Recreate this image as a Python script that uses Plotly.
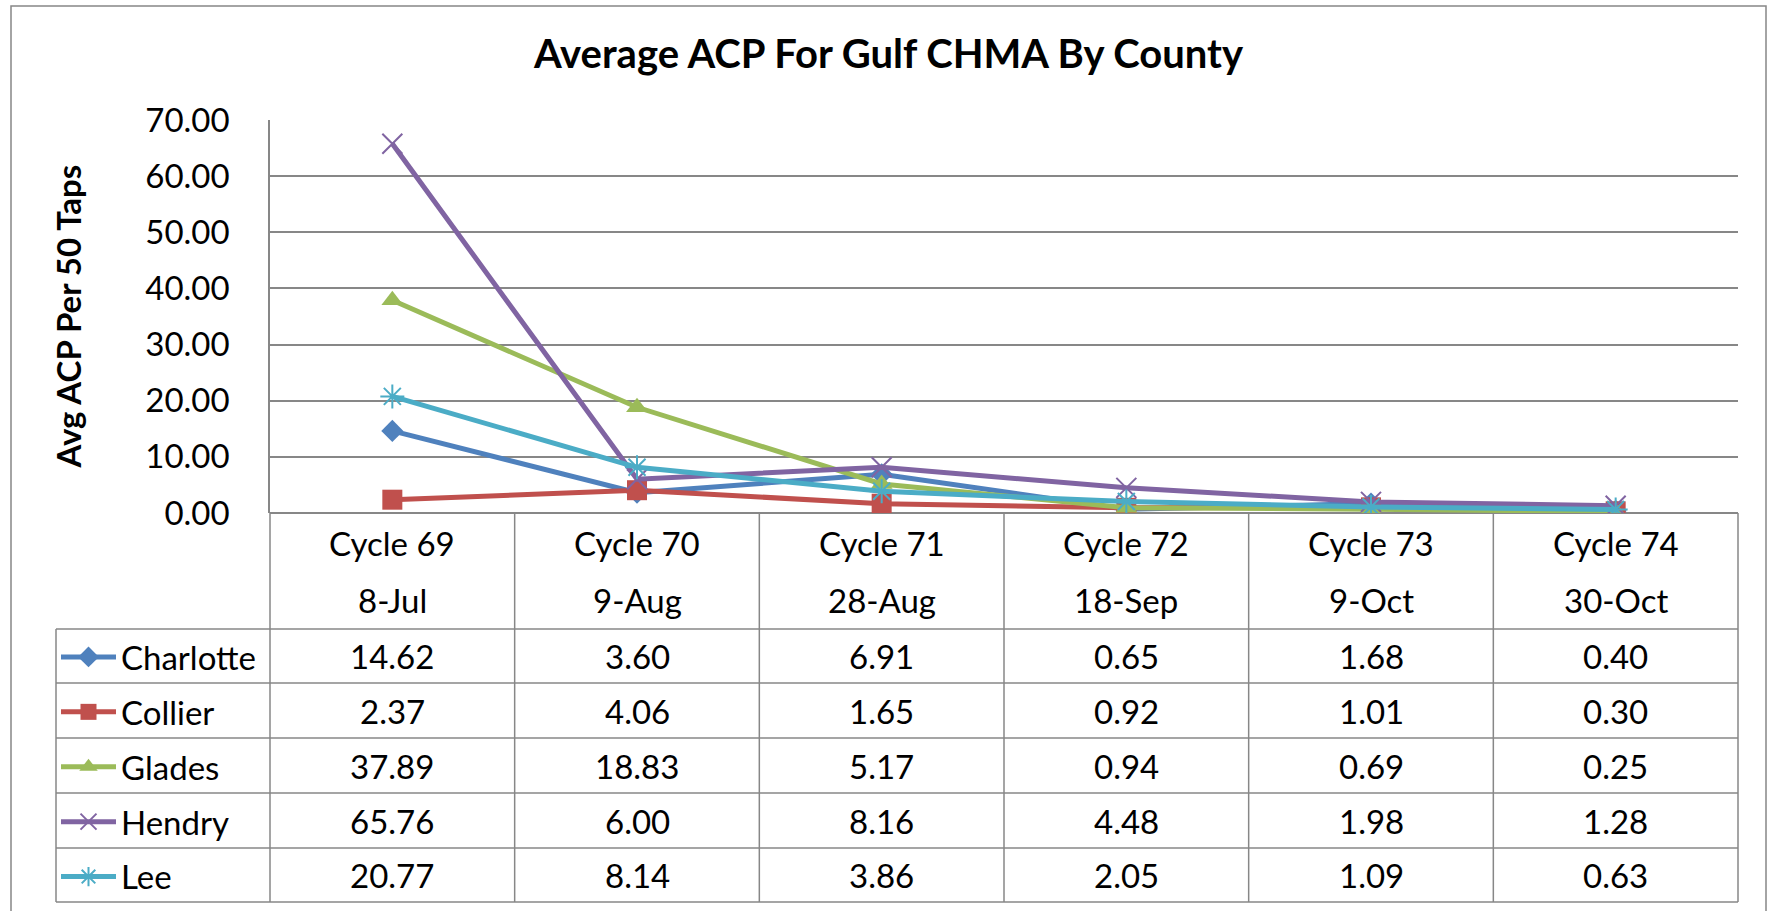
import plotly.graph_objects as go

# ---------------- data ----------------
cycles = ["Cycle 69", "Cycle 70", "Cycle 71", "Cycle 72", "Cycle 73", "Cycle 74"]
dates = ["8-Jul", "9-Aug", "28-Aug", "18-Sep", "9-Oct", "30-Oct"]
charlotte = [14.62, 3.60, 6.91, 0.65, 1.68, 0.40]
collier = [2.37, 4.06, 1.65, 0.92, 1.01, 0.30]
glades = [37.89, 18.83, 5.17, 0.94, 0.69, 0.25]
hendry = [65.76, 6.00, 8.16, 4.48, 1.98, 1.28]
lee = [20.77, 8.14, 3.86, 2.05, 1.09, 0.63]

series_names = ["Charlotte", "Collier", "Glades", "Hendry", "Lee"]
series_values = [charlotte, collier, glades, hendry, lee]
y_ticks = [0, 10, 20, 30, 40, 50, 60, 70]

# ---------------- styling ----------------
W, H = 1771, 911
FONT = "Lato"
GRAY = "#878787"
colors = ["#4F81BD", "#C0504D", "#9BBB59", "#8064A2", "#4BACC6"]
symbols = ["diamond", "square", "triangle-up", "x-thin-open", "asterisk-open"]
sizes = [17, 20, 19, 20, 20]

def px_x(p):
    return p / W

def px_y(p):
    return 1 - p / H

plot_left, plot_right = 270, 1738
plot_top, plot_bottom = 120, 513
x_dom = [px_x(plot_left), px_x(plot_right)]
y_dom = [px_y(plot_bottom), px_y(plot_top)]

fig = go.Figure()
for name, vals, c, s, sz in zip(series_names, series_values, colors, symbols, sizes):
    open_sym = s.endswith("open")
    fig.add_trace(go.Scatter(
        x=cycles, y=vals, name=name, mode="lines+markers",
        legendgroup=name,
        line=dict(color=c, width=5),
        marker=dict(symbol=s, size=sz, color=c,
                    line=dict(color=c, width=2 if open_sym else 0)),
    ))

# table geometry (pixels)
header_top = plot_bottom
row_edges = [629, 683, 738, 793, 848, 902]
table_left = 56
ncol = len(cycles)

def col_edge(i):
    return x_dom[0] + (x_dom[1] - x_dom[0]) * i / ncol

shapes = []
line_style = dict(color=GRAY, width=1.5)
for i in range(ncol + 1):
    shapes.append(dict(type="line", xref="paper", yref="paper",
                       x0=col_edge(i), x1=col_edge(i),
                       y0=px_y(row_edges[-1]), y1=px_y(header_top),
                       line=line_style))
for r in row_edges:
    shapes.append(dict(type="line", xref="paper", yref="paper",
                       x0=px_x(table_left), x1=col_edge(ncol),
                       y0=px_y(r), y1=px_y(r), line=line_style))
shapes.append(dict(type="line", xref="paper", yref="paper",
                   x0=px_x(table_left), x1=px_x(table_left),
                   y0=px_y(row_edges[-1]), y1=px_y(row_edges[0]), line=line_style))
shapes.append(dict(type="rect", xref="paper", yref="paper",
                   x0=px_x(11), x1=px_x(1766), y0=-0.02, y1=px_y(6),
                   line=dict(color=GRAY, width=1.5)))

annotations = []
txt_font = dict(family=FONT, size=33, color="black")
for c, d in zip(cycles, dates):
    annotations.append(dict(x=c, xref="x", y=px_y(543), yref="paper",
                            text=c, showarrow=False, font=txt_font,
                            xanchor="center", yanchor="middle"))
    annotations.append(dict(x=c, xref="x", y=px_y(600), yref="paper",
                            text=d, showarrow=False, font=txt_font,
                            xanchor="center", yanchor="middle"))
for r, vals in enumerate(series_values):
    yc = (row_edges[r] + row_edges[r + 1]) / 2
    for c, v in zip(cycles, vals):
        annotations.append(dict(x=c, xref="x", y=px_y(yc), yref="paper",
                                text=f"{v:.2f}", showarrow=False, font=txt_font,
                                xanchor="center", yanchor="middle"))

annotations.append(dict(x=px_x(888), y=px_y(53), xref="paper", yref="paper",
                        text="<b>Average ACP For Gulf CHMA By County</b>",
                        showarrow=False, xanchor="center", yanchor="middle",
                        font=dict(family=FONT, size=40, color="black")))
annotations.append(dict(x=px_x(68), y=(y_dom[0] + y_dom[1]) / 2, xref="paper", yref="paper",
                        text="<b>Avg ACP Per 50 Taps</b>", textangle=-90,
                        showarrow=False, xanchor="center", yanchor="middle",
                        font=dict(family=FONT, size=33, color="black")))

fig.update_layout(
    width=W, height=H,
    margin=dict(l=0, r=0, t=0, b=0, autoexpand=False),
    paper_bgcolor="white", plot_bgcolor="white",
    font=dict(family=FONT, color="black"),
    xaxis=dict(domain=x_dom, type="category", categoryorder="array",
               categoryarray=cycles, range=[-0.5, ncol - 0.5],
               showticklabels=False, showgrid=False, zeroline=False,
               showline=False, ticks=""),
    yaxis=dict(domain=y_dom, range=[0, 70], tickvals=y_ticks,
               tickformat=".2f", showgrid=True, gridcolor=GRAY, gridwidth=1.5,
               zeroline=True, zerolinecolor=GRAY, zerolinewidth=1.5,
               showline=True, linecolor=GRAY, linewidth=1.5,
               ticks="", ticklabelstandoff=32,
               tickfont=dict(family=FONT, size=33, color="black")),
    showlegend=True,
    legend=dict(x=px_x(table_left), y=px_y(row_edges[0]), xanchor="left", yanchor="top",
                bgcolor="rgba(0,0,0,0)", borderwidth=0, itemwidth=55,
                tracegroupgap=9, traceorder="grouped",
                font=dict(family=FONT, size=33, color="black"),
                itemclick=False, itemdoubleclick=False),
    shapes=shapes,
    annotations=annotations,
)

fig.write_html("out.html",
               config={"displayModeBar": False},
               post_script="document.body.style.margin='0';document.body.style.overflow='hidden';")
